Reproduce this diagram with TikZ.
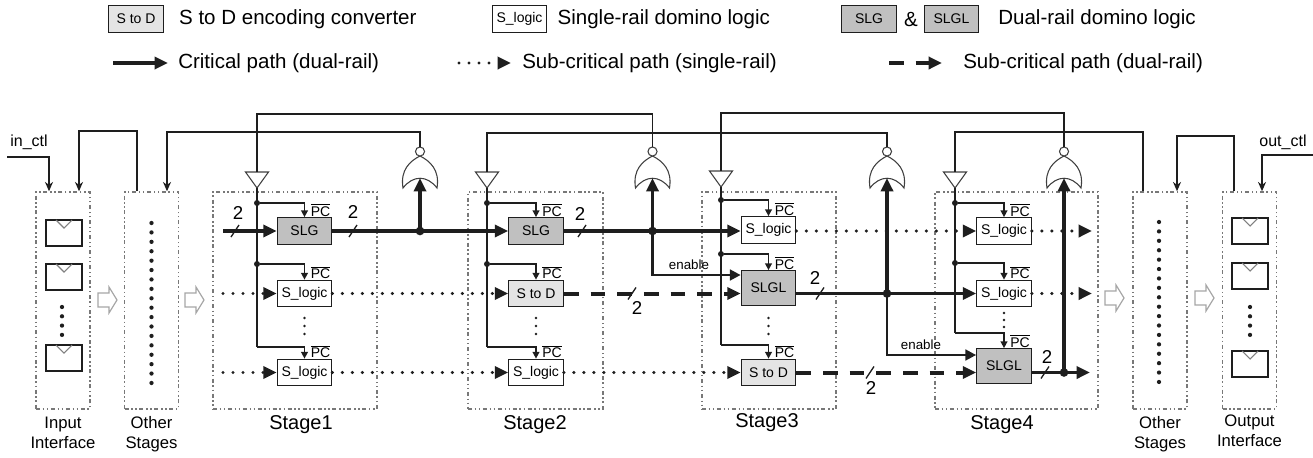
\documentclass[tikz,border=0pt]{standalone}
\usepackage{fontspec}
\setmainfont{Liberation Sans}
\usetikzlibrary{arrows.meta, calc}
\usetikzlibrary{positioning}
\usepackage{xcolor}
\definecolor{slggray}{RGB}{192,192,192}
\definecolor{stdgray}{RGB}{228,228,228}
\definecolor{framegray}{RGB}{120,120,120}
\definecolor{wire}{RGB}{30,30,30}

\begin{document}
\begin{tikzpicture}[x=0.75pt, y=-0.75pt,
		every node/.style={font=\fontsize{10.5}{12}\selectfont},
		lbox/.style={draw=wire, line width=0.8pt, minimum width=41pt, minimum height=20pt, inner sep=0pt, fill=white},
		slg/.style={lbox, fill=slggray},
		slgl/.style={lbox, fill=slggray, minimum height=26pt},
		stod/.style={lbox, fill=stdgray},
		stageframe/.style={draw=framegray, line width=1.1pt, dash dot dot, inner sep=0pt, minimum height=162.75pt},
		crit/.style={draw=wire, line width=2.6pt, -{Triangle[length=10pt,width=9pt]}},
		subs/.style={draw=wire, line width=2.6pt, line cap=round, dash pattern=on 0pt off 7.5pt, -{Triangle[length=10pt,width=9pt]}},
		subd/.style={draw=wire, line width=3pt, dash pattern=on 11pt off 9pt, -{Triangle[length=10pt,width=9pt]}},
		ctl/.style={draw=wire, line width=1.3pt},
		ctlarr/.style={ctl, -{Stealth[length=7pt,width=6pt]}},
		pcarr/.style={draw=wire, line width=1.1pt, -{Triangle[length=5pt,width=5pt]}},
		ena/.style={draw=wire, line width=1.8pt, -{Triangle[length=8pt,width=8pt]}},
		gatel/.style={draw=black!75, line width=0.8pt},
		junc/.style={circle, fill=wire, inner sep=0pt, minimum size=6.5pt},
		bjunc/.style={circle, fill=wire, inner sep=0pt, minimum size=4.5pt},
		pclbl/.style={font=\fontsize{10.5}{12}\selectfont, inner sep=0.5pt, anchor=south west, xshift=4pt},
		buslbl/.style={font=\fontsize{14}{16}\selectfont, inner sep=0pt},
		enlbl/.style={font=\fontsize{10}{12}\selectfont, inner sep=0pt},
		ctllbl/.style={font=\fontsize{12}{14}\selectfont, inner sep=0pt},
		stagelbl/.style={font=\fontsize{15}{18}\selectfont, inner sep=0pt},
		iflbl/.style={font=\fontsize{12.5}{15}\selectfont, align=center, inner sep=0pt},
		lgtxt/.style={font=\fontsize{15.4}{18}\selectfont, inner sep=0pt},
		norgate/.pic={
			\draw[gatel, fill=white] (-17,0) .. controls (-7,-13) and (7,-13) .. (17,0)
				.. controls (20,-18) and (10,-27) .. (0,-32)
				.. controls (-10,-27) and (-20,-18) .. (-17,0) -- cycle;
			\draw[gatel, fill=white] (0,-36.5) circle (3.4pt);
			\coordinate (-in) at (0,-10);
			\coordinate (-out) at (0,-41);
		},
		buffer/.pic={
			\draw[gatel, fill=white] (0,0) -- (-11.5,-16) -- (11.5,-16) -- cycle;
			\coordinate (-in) at (0,-16);
			\coordinate (-out) at (0,0);
		},
		ffbox/.pic={
			\draw[wire, line width=0.9pt, fill=white] (-18,-13) rectangle (18,13);
			\draw[gray, line width=0.8pt] (-8,-13) -- (0,-5) -- (8,-13);
		},
		hollow/.pic={
			\draw[gray!70, line width=0.9pt, fill=white] (0,-7) -- (11,-7) -- (11,-13) -- (19,0) -- (11,13) -- (11,7) -- (0,7) -- cycle;
		},
		busw/.pic={\draw[wire, line width=1pt] (-4,6) -- (4,-6);}
	]
	\useasboundingbox (0,0) rectangle (1313,457);

	% legend
	\node[stod] (lgstd) at (136,19) {S to D};
	\node[lgtxt, right=11.25pt of lgstd] (lgstdt) {S to D encoding converter};
	\node[lbox] (lgsl) at (519.5,19) {S\_logic};
	\node[lgtxt, right=7.5pt of lgsl] (lgslt) {Single-rail domino logic};
	\node[slg] (lgslg) at (869,19) {SLG};
	\node[lgtxt] (lgamp) at (911,19) {\&};
	\node[slg] (lgslgl) at (951.5,19) {SLGL};
	\node[lgtxt, right=14pt of lgslgl] (lgdual) {Dual-rail domino logic};
	\coordinate (lga1) at (113,63); \coordinate (lga2) at (168,63);
	\draw[crit] (lga1) -- (lga2);
	\node[lgtxt, anchor=west] (lgcrit) at (178,63) {Critical path (dual-rail)};
	\coordinate (lgb1) at (459,63); \coordinate (lgb2) at (511,63);
	\draw[subs] (lgb1) -- (lgb2);
	\node[lgtxt, anchor=west] (lgsubs) at (522,63) {Sub-critical path (single-rail)};
	\coordinate (lgc1) at (889,63); \coordinate (lgc2) at (942,63);
	\draw[subd] (lgc1) -- (lgc2);
	\node[lgtxt, anchor=west] (lgsubd) at (963,63) {Sub-critical path (dual-rail)};

	% frames
	\node[stageframe, minimum width=40.5pt] (inif) at (63,300.5) {};
	\node[stageframe, minimum width=40.5pt] (oth1) at (151.5,300.5) {};
	\node[stageframe, minimum width=123pt] (st1) at (295,300.5) {};
	\node[stageframe, minimum width=101.25pt] (st2) at (535.5,300.5) {};
	\node[stageframe, minimum width=100.5pt] (st3) at (769,300.5) {};
	\node[stageframe, minimum width=122.25pt] (st4) at (1016.5,300.5) {};
	\node[stageframe, minimum width=40.5pt] (oth2) at (1160,300.5) {};
	\node[stageframe, minimum width=40.5pt] (outif) at (1249.5,300.5) {};

	\node[iflbl, below=5pt of inif] (inlbl) {Input\\Interface};
	\node[iflbl, below=5pt of oth1] (oth1lbl) {Other\\Stages};
	\node[iflbl, below=5pt of oth2] (oth2lbl) {Other\\Stages};
	\node[iflbl, below=4pt of outif] (outlbl) {Output\\Interface};
	\node[stagelbl] (lab1) at (301,425) {Stage1};
	\node[stagelbl] (lab2) at (535,425) {Stage2};
	\node[stagelbl] (lab3) at (767,423) {Stage3};
	\node[stagelbl] (lab4) at (1002,425) {Stage4};

	% interfaces
	\foreach \y in {233,277,358} \pic at (64,\y) {ffbox};
	\foreach \y in {231,276,364} \pic at (1250,\y) {ffbox};
	\foreach \k in {0,...,3} {
		\fill[wire] (62,{307+9.3*\k}) circle (1.6pt);
		\fill[wire] (1250,{307+9.3*\k}) circle (1.6pt);
	}
	\foreach \k in {0,...,17} {
		\fill[wire] (151.5,{223+9.41*\k}) circle (1.6pt);
		\fill[wire] (1159,{222+9.41*\k}) circle (1.6pt);
	}
	\pic at (98,300) {hollow};
	\pic at (185,300) {hollow};
	\pic at (1105,298) {hollow};
	\pic at (1195,298) {hollow};

	% gates and buffers
	\pic (buf1) at (257,188) {buffer};
	\pic (buf2) at (487,188) {buffer};
	\pic (buf3) at (721,187) {buffer};
	\pic (buf4) at (955,188) {buffer};
	\pic (nor1) at (420,188) {norgate};
	\pic (nor2) at (652.5,188) {norgate};
	\pic (nor3) at (887,188) {norgate};
	\pic (nor4) at (1064,188) {norgate};

	% logic blocks
	\node[slg] (slg1) at (304.5,231) {SLG};
	\node[lbox] (sl1b) at (304.5,293.5) {S\_logic};
	\node[lbox] (sl1c) at (304.5,372.5) {S\_logic};
	\node[slg] (slg2) at (536,231) {SLG};
	\node[stod] (std2) at (536,293.5) {S to D};
	\node[lbox] (sl2c) at (536,372.5) {S\_logic};
	\node[lbox] (sl3a) at (768.5,230) {S\_logic};
	\node[slgl] (slgl3) at (768.5,288) {SLGL};
	\node[stod] (std3) at (768.5,372.5) {S to D};
	\node[lbox] (sl4a) at (1004,231) {S\_logic};
	\node[lbox] (sl4b) at (1004,293.5) {S\_logic};
	\node[slgl] (slgl4) at (1004,366) {SLGL};
	\foreach \b in {slg1,sl1b,sl1c,slg2,std2,sl2c,sl3a,slgl3,std3,sl4a,sl4b,slgl4}
		\node[pclbl] at (\b.north) {$\overline{\hbox{PC}}$};

	% precharge buses
	\node[bjunc] (j1a) at (257,203) {};
	\node[bjunc] (j1b) at (257,264) {};
	\coordinate (k1) at (257,347);
	\node[bjunc] (j2a) at (487,203) {};
	\node[bjunc] (j2b) at (487,264) {};
	\coordinate (k2) at (487,347);
	\node[bjunc] (j3a) at (721,200) {};
	\node[bjunc] (j3b) at (721,254) {};
	\coordinate (k3) at (721,345);
	\node[bjunc] (j4a) at (955,203) {};
	\node[bjunc] (j4b) at (955,263) {};
	\coordinate (k4) at (955,333);
	\draw[ctl] (buf1-out) -- (k1);
	\draw[ctl] (buf2-out) -- (k2);
	\draw[ctl] (buf3-out) -- (k3);
	\draw[ctl] (buf4-out) -- (k4);
	\draw[pcarr] (j1a) -| (slg1.north);
	\draw[pcarr] (j1b) -| (sl1b.north);
	\draw[pcarr] (k1) -| (sl1c.north);
	\draw[pcarr] (j2a) -| (slg2.north);
	\draw[pcarr] (j2b) -| (std2.north);
	\draw[pcarr] (k2) -| (sl2c.north);
	\draw[pcarr] (j3a) -| (sl3a.north);
	\draw[pcarr] (j3b) -| (slgl3.north);
	\draw[pcarr] (k3) -| (std3.north);
	\draw[pcarr] (j4a) -| (sl4a.north);
	\draw[pcarr] (j4b) -| (sl4b.north);
	\draw[pcarr] (k4) -| (slgl4.north);
	\foreach \k in {0,1,2} {
		\fill[wire] (304.5,{318+8*\k}) circle (1.1pt);
		\fill[wire] (536,{318+8*\k}) circle (1.1pt);
		\fill[wire] (768.5,{318+8*\k}) circle (1.1pt);
		\fill[wire] (1004,{313+7*\k}) circle (1.1pt);
	}

	% data paths
	\coordinate (in1) at (223,231);
	\coordinate (in2) at (223,293.5);
	\coordinate (in3) at (223,372.5);
	\coordinate (out1) at (1092,231);
	\coordinate (out2) at (1092,293.5);
	\coordinate (out3) at (1090,372.5);
	\draw[crit] (in1) -- (slg1);
	\draw[crit] (slg1) -- (slg2);
	\draw[crit] (slg2) -- (slg2 -| sl3a.west);
	\draw[subs] (sl3a.east |- sl4a) -- (sl4a);
	\draw[subs] (sl4a) -- (out1);
	\draw[subs] (in2) -- (sl1b);
	\draw[subs] (sl1b) -- (std2);
	\draw[subd] (std2) -- (std2 -| slgl3.west);
	\draw[crit] (slgl3.east |- std2) -- (sl4b);
	\draw[subs] (sl4b) -- (out2);
	\draw[subs] (in3) -- (sl1c);
	\draw[subs] (sl1c) -- (sl2c);
	\draw[subs] (sl2c) -- (std3);
	\draw[subd] (std3) -- (std3 -| slgl4.west);
	\draw[crit] (slgl4.east |- std3) -- (out3);

	\node[junc] (d1) at (420,231) {};
	\node[junc] (d2) at (652.5,231) {};
	\node[junc] (d3) at (887,293.5) {};
	\node[junc] (d4) at (1064,372.5) {};
	\draw[crit] (d1.center) -- (nor1-in);
	\draw[crit] (d2.center) -- (nor2-in);
	\draw[crit] (d3.center) -- (nor3-in);
	\draw[crit] (d4.center) -- (nor4-in);
	\draw[ena] (d2.center) |- ($(slgl3.west)+(0,-13)$);
	\draw[ena] (d3.center) |- ($(slgl4.west)+(0,-11)$);
	\node[enlbl] (en3) at (689,265) {enable};
	\node[enlbl] (en4) at (921,345) {enable};

	% bus widths
	\foreach \p in {(235,231),(353,231),(582,231),(632,293.5),(820,293.5),(870,372.5),(1045,372.5)}
		\pic at \p {busw};
	\node[buslbl] (w1) at (238,213) {2};
	\node[buslbl] (w2) at (353,212) {2};
	\node[buslbl] (w3) at (580,214) {2};
	\node[buslbl] (w4) at (637,308) {2};
	\node[buslbl] (w5) at (815,278) {2};
	\node[buslbl] (w6) at (871,388) {2};
	\node[buslbl] (w7) at (1047,357) {2};

	% control wiring
	\coordinate (inctl) at (7,157);
	\coordinate (outctl) at (1313,155);
	\node[ctllbl] (inctllbl) at (29,142) {in\_ctl};
	\node[ctllbl] (outctllbl) at (1283,142) {out\_ctl};
	\draw[ctlarr] (inctl) -| ($(inif.north)+(-14,0)$);
	\draw[ctlarr] ($(oth1.north)+(-14.5,0)$) -- ++(0,-60) -| ($(inif.north)+(16,0)$);
	\draw[ctlarr] (nor1-out) -- ++(0,-15) -| ($(oth1.north)+(15.5,0)$);
	\draw[ctl] (nor2-out) -- ++(0,-33) -| (buf1-in);
	\draw[ctl] (nor3-out) -- ++(0,-14) -| (buf2-in);
	\draw[ctl] (nor4-out) -- ++(0,-34) -| (buf3-in);
	\draw[ctl] ($(oth2.north)+(-17,0)$) -- ++(0,-59) -| (buf4-in);
	\draw[ctlarr] ($(outif.north)+(-15.5,0)$) -- ++(0,-55) -| ($(oth2.north)+(17,0)$);
	\draw[ctlarr] (outctl) -| ($(outif.north)+(12.5,0)$);
\end{tikzpicture}
\end{document}
